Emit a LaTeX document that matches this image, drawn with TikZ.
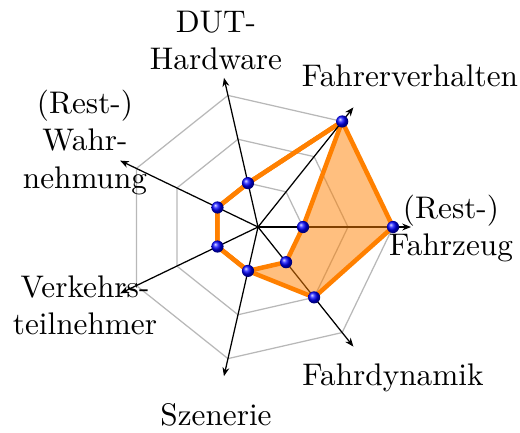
\documentclass[tikz,border=0pt]{standalone}
\usetikzlibrary{arrows.meta}
\newcommand{\lbl}[1]{\begin{tabular}[t]{@{}c@{}}#1\end{tabular}}
\begin{document}
\begin{tikzpicture}[x=0.32pt,y=0.32pt,
  gridline/.style={draw=black!28, line width=0.4pt},
  axisline/.style={draw=black, line width=0.4pt, -{Stealth[length=2.8pt,width=2.2pt]}},
  seriesline/.style={draw=orange, line width=1.45pt, line join=round},
  areafill/.style={fill=orange, fill opacity=0.5},
  dot/.style={circle, inner sep=0pt, minimum size=3.9pt, ball color=blue},
  lab/.style={inner sep=0pt, anchor=base}]
\useasboundingbox (0,0) rectangle (520,432);
\coordinate (O) at (258,205);
\begin{scope}[shift={(258,205)}]
  % grid
  \foreach \r in {45,90,135}{
    \draw[gridline] (0:\r) \foreach \k in {1,...,6}{ -- ({\k*360/7}:\r)} -- cycle;
  }
  % axis ends
  \foreach \k in {0,...,6}{
    \coordinate (a\k) at ({\k*360/7}:153);
  }
  % data points
  \coordinate (pA0) at (0:135);
  \coordinate (pA1) at ({360/7}:135);
  \coordinate (pA2) at ({720/7}:45);
  \coordinate (pA3) at ({1080/7}:45);
  \coordinate (pA4) at ({1440/7}:45);
  \coordinate (pA5) at ({1800/7}:45);
  \coordinate (pA6) at ({2160/7}:90);
  \coordinate (pB0) at (0:45);
  \coordinate (pB6) at ({2160/7}:45);
\end{scope}
% series lines
\draw[seriesline] (pA0) -- (pA1) -- (pA2) -- (pA3) -- (pA4) -- (pA5) -- (pA6) -- cycle;
\draw[seriesline] (pB0) -- (pA1) -- (pA2) -- (pA3) -- (pA4) -- (pA5) -- (pB6) -- cycle;
% axes
\foreach \k in {0,...,6}{
  \draw[axisline] (O) -- (a\k);
}
% area between series
\fill[areafill] (pA1) -- (pA0) -- (pA6) -- (pA5) -- (pB6) -- (pB0) -- cycle;
% points
\foreach \p in {pA0,pA1,pA2,pA3,pA4,pA5,pA6,pB0,pB6}{
  \node[dot] (d\p) at (\p) {};
}
% labels
\node[lab] (lDUT) at (216,400) {\lbl{DUT-\\Hardware}};
\node[lab] (lFV) at (410,346) {Fahrerverhalten};
\node[lab] (lFZ) at (451,214) {\lbl{(Rest-)\\Fahrzeug}};
\node[lab] (lWN) at (85,319) {\lbl{(Rest-)\\Wahr-\\nehmung}};
\node[lab] (lVT) at (85,135) {\lbl{Verkehrs-\\teilnehmer}};
\node[lab] (lSZ) at (216,7) {Szenerie};
\node[lab] (lFD) at (393,47) {Fahrdynamik};
\end{tikzpicture}
\end{document}
